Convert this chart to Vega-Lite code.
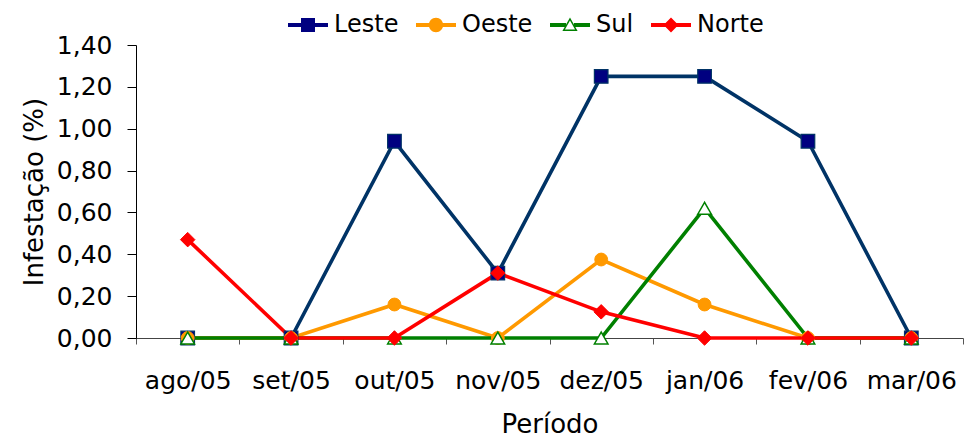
{
  "$schema": "https://vega.github.io/schema/vega-lite/v6.json",
  "width": 827,
  "height": 293,
  "autosize": {"type": "none"},
  "padding": {"left": 136, "top": 45, "right": 13, "bottom": 101},
  "background": "white",
  "data": {
    "values": [
      {"serie": "Leste", "mes": "ago/05", "valor": 0},
      {"serie": "Leste", "mes": "set/05", "valor": 0},
      {"serie": "Leste", "mes": "out/05", "valor": 0.94},
      {"serie": "Leste", "mes": "nov/05", "valor": 0.31},
      {"serie": "Leste", "mes": "dez/05", "valor": 1.25},
      {"serie": "Leste", "mes": "jan/06", "valor": 1.25},
      {"serie": "Leste", "mes": "fev/06", "valor": 0.94},
      {"serie": "Leste", "mes": "mar/06", "valor": 0},
      {"serie": "Oeste", "mes": "ago/05", "valor": 0},
      {"serie": "Oeste", "mes": "set/05", "valor": 0},
      {"serie": "Oeste", "mes": "out/05", "valor": 0.16},
      {"serie": "Oeste", "mes": "nov/05", "valor": 0},
      {"serie": "Oeste", "mes": "dez/05", "valor": 0.375},
      {"serie": "Oeste", "mes": "jan/06", "valor": 0.16},
      {"serie": "Oeste", "mes": "fev/06", "valor": 0},
      {"serie": "Oeste", "mes": "mar/06", "valor": 0},
      {"serie": "Sul", "mes": "ago/05", "valor": 0},
      {"serie": "Sul", "mes": "set/05", "valor": 0},
      {"serie": "Sul", "mes": "out/05", "valor": 0},
      {"serie": "Sul", "mes": "nov/05", "valor": 0},
      {"serie": "Sul", "mes": "dez/05", "valor": 0},
      {"serie": "Sul", "mes": "jan/06", "valor": 0.62},
      {"serie": "Sul", "mes": "fev/06", "valor": 0},
      {"serie": "Sul", "mes": "mar/06", "valor": 0},
      {"serie": "Norte", "mes": "ago/05", "valor": 0.47},
      {"serie": "Norte", "mes": "set/05", "valor": 0},
      {"serie": "Norte", "mes": "out/05", "valor": 0},
      {"serie": "Norte", "mes": "nov/05", "valor": 0.31},
      {"serie": "Norte", "mes": "dez/05", "valor": 0.125},
      {"serie": "Norte", "mes": "jan/06", "valor": 0},
      {"serie": "Norte", "mes": "fev/06", "valor": 0},
      {"serie": "Norte", "mes": "mar/06", "valor": 0}
    ]
  },
  "encoding": {
    "x": {
      "field": "mes",
      "type": "nominal",
      "sort": ["ago/05", "set/05", "out/05", "nov/05", "dez/05", "jan/06", "fev/06", "mar/06"],
      "scale": {"type": "band", "paddingInner": 0, "paddingOuter": 0},
      "axis": {
        "title": "Período",
        "labelAngle": 0,
        "tickBand": "extent",
        "tickSize": 6,
        "labelPadding": 24,
        "titlePadding": 18,
        "domainColor": "#444444",
        "tickColor": "#555555"
      }
    },
    "y": {
      "field": "valor",
      "type": "quantitative",
      "scale": {"domain": [0, 1.4], "nice": false, "zero": true},
      "axis": {
        "title": "Infestação (%)",
        "values": [0, 0.2, 0.4, 0.6, 0.8, 1.0, 1.2, 1.4],
        "labelExpr": "replace(format(datum.value, '.2f'), '.', ',')",
        "tickSize": 9,
        "labelPadding": 15,
        "titlePadding": 9,
        "domainColor": "#000000",
        "tickColor": "#000000"
      }
    }
  },
  "layer": [
    {
      "mark": {"type": "line", "strokeWidth": 3.6},
      "encoding": {
        "color": {
          "field": "serie",
          "type": "nominal",
          "sort": ["Leste", "Oeste", "Sul", "Norte"],
          "scale": {"domain": ["Leste", "Oeste", "Sul", "Norte"], "range": ["#003366", "#FF9900", "#008000", "#FF0000"]},
          "legend": {
            "title": null,
            "orient": "none",
            "direction": "horizontal",
            "legendX": 152,
            "legendY": -40,
            "padding": 0,
            "symbolSize": 1600,
            "labelOffset": 6,
            "columnPadding": 17,
            "labelFontSize": 24,
            "labelColor": "#000000",
            "encode": {
              "symbols": {
                "update": {
                  "shape": {"signal": "datum.value === 'Leste' ? 'M-1,-0.1H1V0.1H-1Z M-0.35,-0.35H0.35V0.35H-0.35Z' : datum.value === 'Oeste' ? 'M-1,-0.1H1V0.1H-1Z M-0.36,0A0.36,0.36 0 1,1 0.36,0A0.36,0.36 0 1,1 -0.36,0Z' : datum.value === 'Sul' ? 'M-1,-0.1H-0.2V0.1H-1Z M0.2,-0.1H1V0.1H0.2Z M0,-0.38L0.38,0.3L-0.38,0.3Z M0,-0.226L-0.252,0.225L0.252,0.225Z' : 'M-1,-0.1H1V0.1H-1Z M0,-0.37L0.37,0L0,0.37L-0.37,0Z'"},
                  "fill": {"signal": "datum.value === 'Leste' ? '#000080' : scale('color', datum.value)"},
                  "stroke": {"value": "transparent"},
                  "strokeWidth": {"value": 0},
                  "opacity": {"value": 1}
                }
              }
            }
          }
        }
      }
    },
    {
      "transform": [{"filter": "datum.serie === 'Leste'"}],
      "mark": {"type": "point", "shape": "square", "size": 185, "filled": true, "fill": "#000080", "stroke": "#003366", "strokeWidth": 1.2, "opacity": 1}
    },
    {
      "transform": [{"filter": "datum.serie === 'Oeste'"}],
      "mark": {"type": "point", "shape": "circle", "size": 165, "filled": true, "fill": "#FF9900", "stroke": "#FF9900", "strokeWidth": 1, "opacity": 1}
    },
    {
      "transform": [{"filter": "datum.serie === 'Sul'"}],
      "mark": {"type": "point", "shape": "triangle-up", "size": 185, "filled": false, "fill": "#FFFFFF", "stroke": "#008000", "strokeWidth": 1.5, "opacity": 1}
    },
    {
      "transform": [{"filter": "datum.serie === 'Norte'"}],
      "mark": {"type": "point", "shape": "diamond", "size": 210, "filled": true, "fill": "#FF0000", "stroke": "#FF0000", "strokeWidth": 1, "opacity": 1}
    }
  ],
  "config": {
    "font": "DejaVu Sans",
    "view": {"stroke": null},
    "axis": {
      "grid": false,
      "labelFont": "DejaVu Sans",
      "labelFontSize": 25,
      "labelColor": "#000000",
      "titleFont": "DejaVu Sans",
      "titleFontSize": 26,
      "titleFontWeight": "normal",
      "titleColor": "#000000",
      "domainWidth": 1
    },
    "legend": {"labelFont": "DejaVu Sans"}
  }
}
